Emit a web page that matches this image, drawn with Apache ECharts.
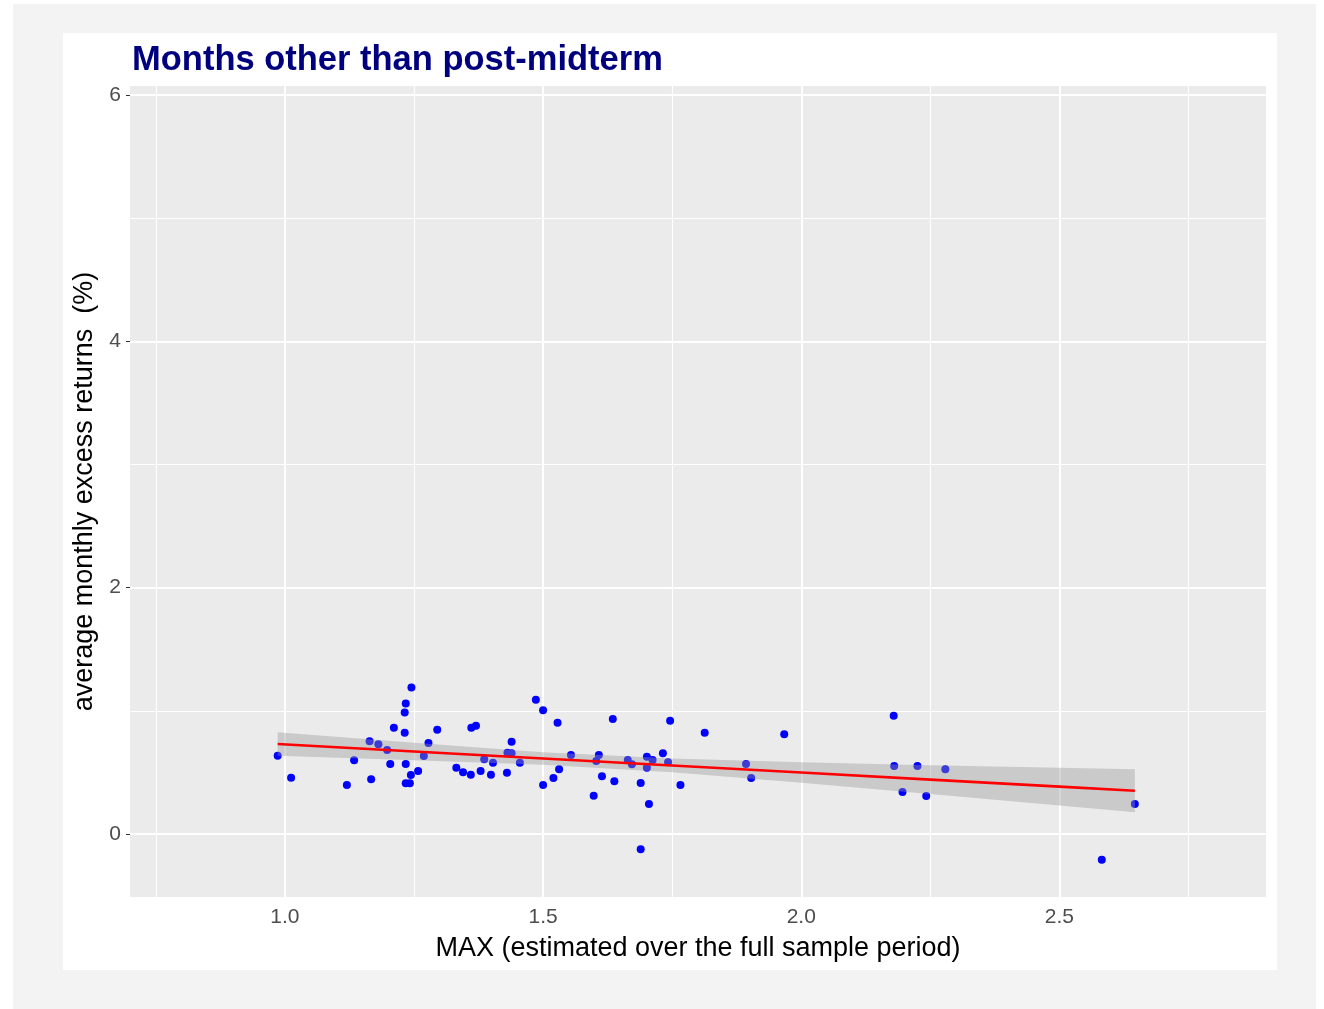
<!DOCTYPE html>
<html>
<head>
<meta charset="utf-8">
<script src="https://cdn.jsdelivr.net/npm/echarts@6/dist/echarts.min.js"></script>
<style>
  html, body { margin: 0; padding: 0; background: #ffffff; }
  #outer { position: absolute; left: 13px; top: 4px; width: 1303px; height: 1005px; background: #f3f3f3; }
  #card { position: absolute; left: 63px; top: 33px; width: 1214px; height: 937px; background: #ffffff; }
  #chart { position: absolute; left: 0; top: 0; width: 1324px; height: 1009px; }
</style>
</head>
<body>
<div id="outer"></div>
<div id="card"></div>
<div id="chart"></div>
<script>
// Average monthly excess return vs. MAX, months other than post-midterm
const maxValues = [
  0.986, 1.012, 1.120, 1.134, 1.167, 1.164, 1.181, 1.198, 1.204, 1.211,
  1.232, 1.232, 1.234, 1.245, 1.234, 1.244, 1.258, 1.234, 1.242, 1.278,
  1.295, 1.269, 1.332, 1.345, 1.360, 1.361, 1.370, 1.379, 1.386, 1.403,
  1.399, 1.430, 1.431, 1.439, 1.439, 1.455, 1.486, 1.500, 1.500, 1.520,
  1.528, 1.531, 1.554, 1.598, 1.603, 1.608, 1.614, 1.635, 1.638, 1.664,
  1.672, 1.689, 1.689, 1.701, 1.712, 1.701, 1.705, 1.732, 1.742, 1.746,
  1.766, 1.813, 1.893, 1.903, 1.967, 2.179, 2.180, 2.196, 2.225, 2.242,
  2.279, 2.582, 2.646
];
const excessReturns = [
  0.635, 0.457, 0.398, 0.598, 0.444, 0.752, 0.728, 0.682, 0.568, 0.862,
  0.822, 0.987, 1.060, 1.190, 0.568, 0.479, 0.511, 0.411, 0.411, 0.738,
  0.846, 0.633, 0.538, 0.501, 0.481, 0.862, 0.879, 0.511, 0.606, 0.579,
  0.481, 0.497, 0.660, 0.655, 0.749, 0.579, 1.090, 1.004, 0.398, 0.454,
  0.903, 0.525, 0.641, 0.311, 0.592, 0.641, 0.468, 0.933, 0.428, 0.600,
  0.566, 0.414, -0.124, 0.627, 0.600, 0.538, 0.243, 0.655, 0.582, 0.919,
  0.398, 0.822, 0.568, 0.454, 0.809, 0.960, 0.552, 0.341, 0.552, 0.308,
  0.525, -0.209, 0.243
];

// Linear fit with its confidence band
const fitX    = [0.986, 1.25, 1.50, 1.75, 2.00, 2.25, 2.50, 2.646];
const fitY    = [0.730, 0.670, 0.613, 0.556, 0.499, 0.441, 0.384, 0.351];
const bandLow = [0.634, 0.599, 0.562, 0.500, 0.416, 0.325, 0.231, 0.177];
const bandHigh= [0.826, 0.741, 0.664, 0.612, 0.582, 0.557, 0.537, 0.525];

// Axis ticks and grid lines
const xTicks = [1.0, 1.5, 2.0, 2.5];
const xMinor = [0.75, 1.25, 1.75, 2.25, 2.75];
const yTicks = [0, 2, 4, 6];
const yMinor = [1, 3, 5];
const xRange = [0.7, 2.9];
const yRange = [-0.512, 6.073];

const FONT = 'Liberation Sans, Arial, sans-serif';

const chart = echarts.init(document.getElementById('chart'), null, { renderer: 'canvas' });

const gridLines = [];
xMinor.forEach(v => gridLines.push({ xAxis: v, lineStyle: { width: 1.1 } }));
yMinor.forEach(v => gridLines.push({ yAxis: v, lineStyle: { width: 1.1 } }));
xTicks.forEach(v => gridLines.push({ xAxis: v, lineStyle: { width: 2 } }));
yTicks.forEach(v => gridLines.push({ yAxis: v, lineStyle: { width: 2 } }));

// confidence band drawn as one polygon: lower edge left→right, upper edge right→left
function renderBand(params, api) {
  if (params.dataIndex !== 0) return null;
  const pts = [];
  for (let i = 0; i < fitX.length; i++) pts.push(api.coord([fitX[i], bandLow[i]]));
  for (let i = fitX.length - 1; i >= 0; i--) pts.push(api.coord([fitX[i], bandHigh[i]]));
  return {
    type: 'polygon',
    shape: { points: pts },
    style: { fill: 'rgba(153,153,153,0.4)' }
  };
}

chart.setOption({
  backgroundColor: 'transparent',
  animation: false,
  title: {
    text: 'Months other than post-midterm',
    left: 127,
    top: 38,
    textStyle: { fontFamily: FONT, fontWeight: 'bold', fontSize: 34.5, color: '#00007f' }
  },
  grid: {
    left: 130, top: 86, width: 1136, height: 811,
    show: true, backgroundColor: '#ebebeb', borderWidth: 0
  },
  xAxis: {
    type: 'value',
    min: xRange[0], max: xRange[1],
    axisLine: { show: false },
    splitLine: { show: false },
    axisTick: { show: true, customValues: xTicks, length: 4, lineStyle: { color: '#333333', width: 1 } },
    axisLabel: {
      customValues: xTicks, margin: 10,
      formatter: v => v.toFixed(1),
      fontFamily: FONT, fontSize: 21, color: '#4d4d4d'
    },
    name: 'MAX (estimated over the full sample period)',
    nameLocation: 'middle',
    nameGap: 38,
    nameTextStyle: { fontFamily: FONT, fontSize: 27, color: '#000000' }
  },
  yAxis: {
    type: 'value',
    min: yRange[0], max: yRange[1],
    axisLine: { show: false },
    splitLine: { show: false },
    axisTick: { show: true, customValues: yTicks, length: 4, lineStyle: { color: '#333333', width: 1 } },
    axisLabel: {
      customValues: yTicks, margin: 9,
      fontFamily: FONT, fontSize: 21, color: '#4d4d4d'
    },
    name: 'average monthly excess returns  (%)',
    nameLocation: 'middle',
    nameGap: 25,
    nameRotate: 90,
    nameTextStyle: { fontFamily: FONT, fontSize: 27, color: '#000000' }
  },
  series: [
    {
      // panel grid lines
      type: 'scatter', data: [], z: 1, silent: true,
      markLine: {
        z: 1,
        silent: true, symbol: 'none', animation: false,
        label: { show: false },
        lineStyle: { color: '#ffffff', type: 'solid' },
        data: gridLines
      }
    },
    {
      type: 'scatter',
      z: 10,
      symbol: 'circle',
      symbolSize: 8,
      itemStyle: { color: '#0000ff', opacity: 1 },
      data: maxValues.map((x, i) => [x, excessReturns[i]])
    },
    {
      type: 'custom', z: 11, silent: true,
      renderItem: renderBand,
      data: [[fitX[0], fitY[0]]]
    },
    {
      type: 'line', z: 12, silent: true,
      symbol: 'none',
      lineStyle: { color: '#ff0000', width: 2.6 },
      data: fitX.map((x, i) => [x, fitY[i]])
    }
  ]
});
</script>
</body>
</html>
